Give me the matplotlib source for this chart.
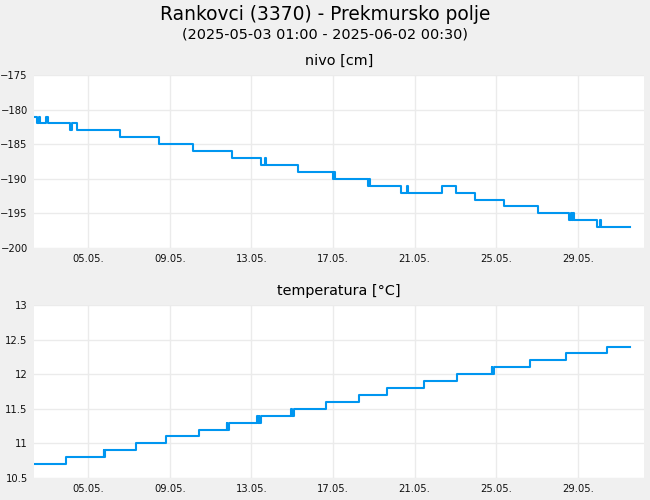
import numpy as np
import matplotlib
matplotlib.use('Agg')
import matplotlib.pyplot as plt

# hours since 2025-05-03 01:00, value from that hour on (step data)
lvl_hours = [0, 4, 6.5, 7.5, 14, 17, 43.5, 46, 52.5, 104, 151.5, 192, 239.5,
             274, 279, 280, 318.5, 361, 362.5, 363.5, 403, 404.5, 405.5,
             443, 450.5, 452, 492.5, 509, 533, 568, 608, 646.5, 648, 649.5,
             651, 652.5, 680, 683, 684.5, 719.5]
lvl_values = [-181, -182, -181, -182, -181, -182, -183, -182, -183, -184, -185, -186, -187,
              -188, -187, -188, -189, -190, -189, -190, -191, -190, -191,
              -192, -191, -192, -191, -192, -193, -194, -195, -196, -195, -196,
              -195, -196, -197, -196, -197, -197]

tmp_hours = [0, 38.5, 84, 85, 86, 123, 159, 199.5, 232.5, 233.5, 235,
             269, 270, 271.5, 272, 273.5, 310, 312, 314.5, 352, 392.5,
             426.5, 471, 511, 552.5, 553.5, 555.5, 599, 642.5, 692, 719.5]
tmp_values = [10.7, 10.8, 10.9, 10.8, 10.9, 11.0, 11.1, 11.2, 11.3, 11.2, 11.3,
              11.4, 11.3, 11.4, 11.3, 11.4, 11.5, 11.4, 11.5, 11.6, 11.7,
              11.8, 11.9, 12.0, 12.1, 12.0, 12.1, 12.2, 12.3, 12.4, 12.4]

tick_hours = [65.5, 164, 262.5, 361, 459.5, 558, 656.5]
tick_labels = ['05.05.', '09.05.', '13.05.', '17.05.', '21.05.', '25.05.', '29.05.']

bg = '#f0f0f0'
blue = '#0096f0'
grid = '#ebebeb'

fig = plt.figure(figsize=(6.5, 5), dpi=100, facecolor=bg)
fig.text(0.5, 0.971, 'Rankovci (3370) - Prekmursko polje', ha='center', va='center', fontsize=13.4)
fig.text(0.5, 0.930, '(2025-05-03 01:00 - 2025-06-02 00:30)', ha='center', va='center', fontsize=10.4)

ax1 = fig.add_axes([34 / 650, 1 - 248 / 500, 610 / 650, 173 / 500])
ax2 = fig.add_axes([34 / 650, 1 - 478 / 500, 610 / 650, 173 / 500])

ax1.step(lvl_hours, lvl_values, where='post', color=blue, lw=1.5)
ax2.step(tmp_hours, tmp_values, where='post', color=blue, lw=1.5)

ax1.set_ylim(-200, -175)
ax1.set_yticks(np.arange(-200, -174, 5))
ax2.set_ylim(10.5, 13)
ax2.set_yticks([10.5, 11, 11.5, 12, 12.5, 13])
ax2.set_yticklabels(['10.5', '11', '11.5', '12', '12.5', '13'])

ax1.set_title('nivo [cm]', fontsize=10.4, pad=7)
ax2.set_title('temperatura [°C]', fontsize=10.4, pad=7)

for ax in (ax1, ax2):
    ax.set_xlim(0, 736.5)
    ax.set_xticks(tick_hours)
    ax.set_xticklabels(tick_labels)
    ax.set_facecolor('white')
    ax.grid(True, color=grid, lw=1)
    ax.set_axisbelow(True)
    for s in ax.spines.values():
        s.set_visible(False)
    ax.tick_params(length=0, labelsize=7.2, pad=4.5, colors='#111111')

plt.savefig('out.png', dpi=100, facecolor=bg)
